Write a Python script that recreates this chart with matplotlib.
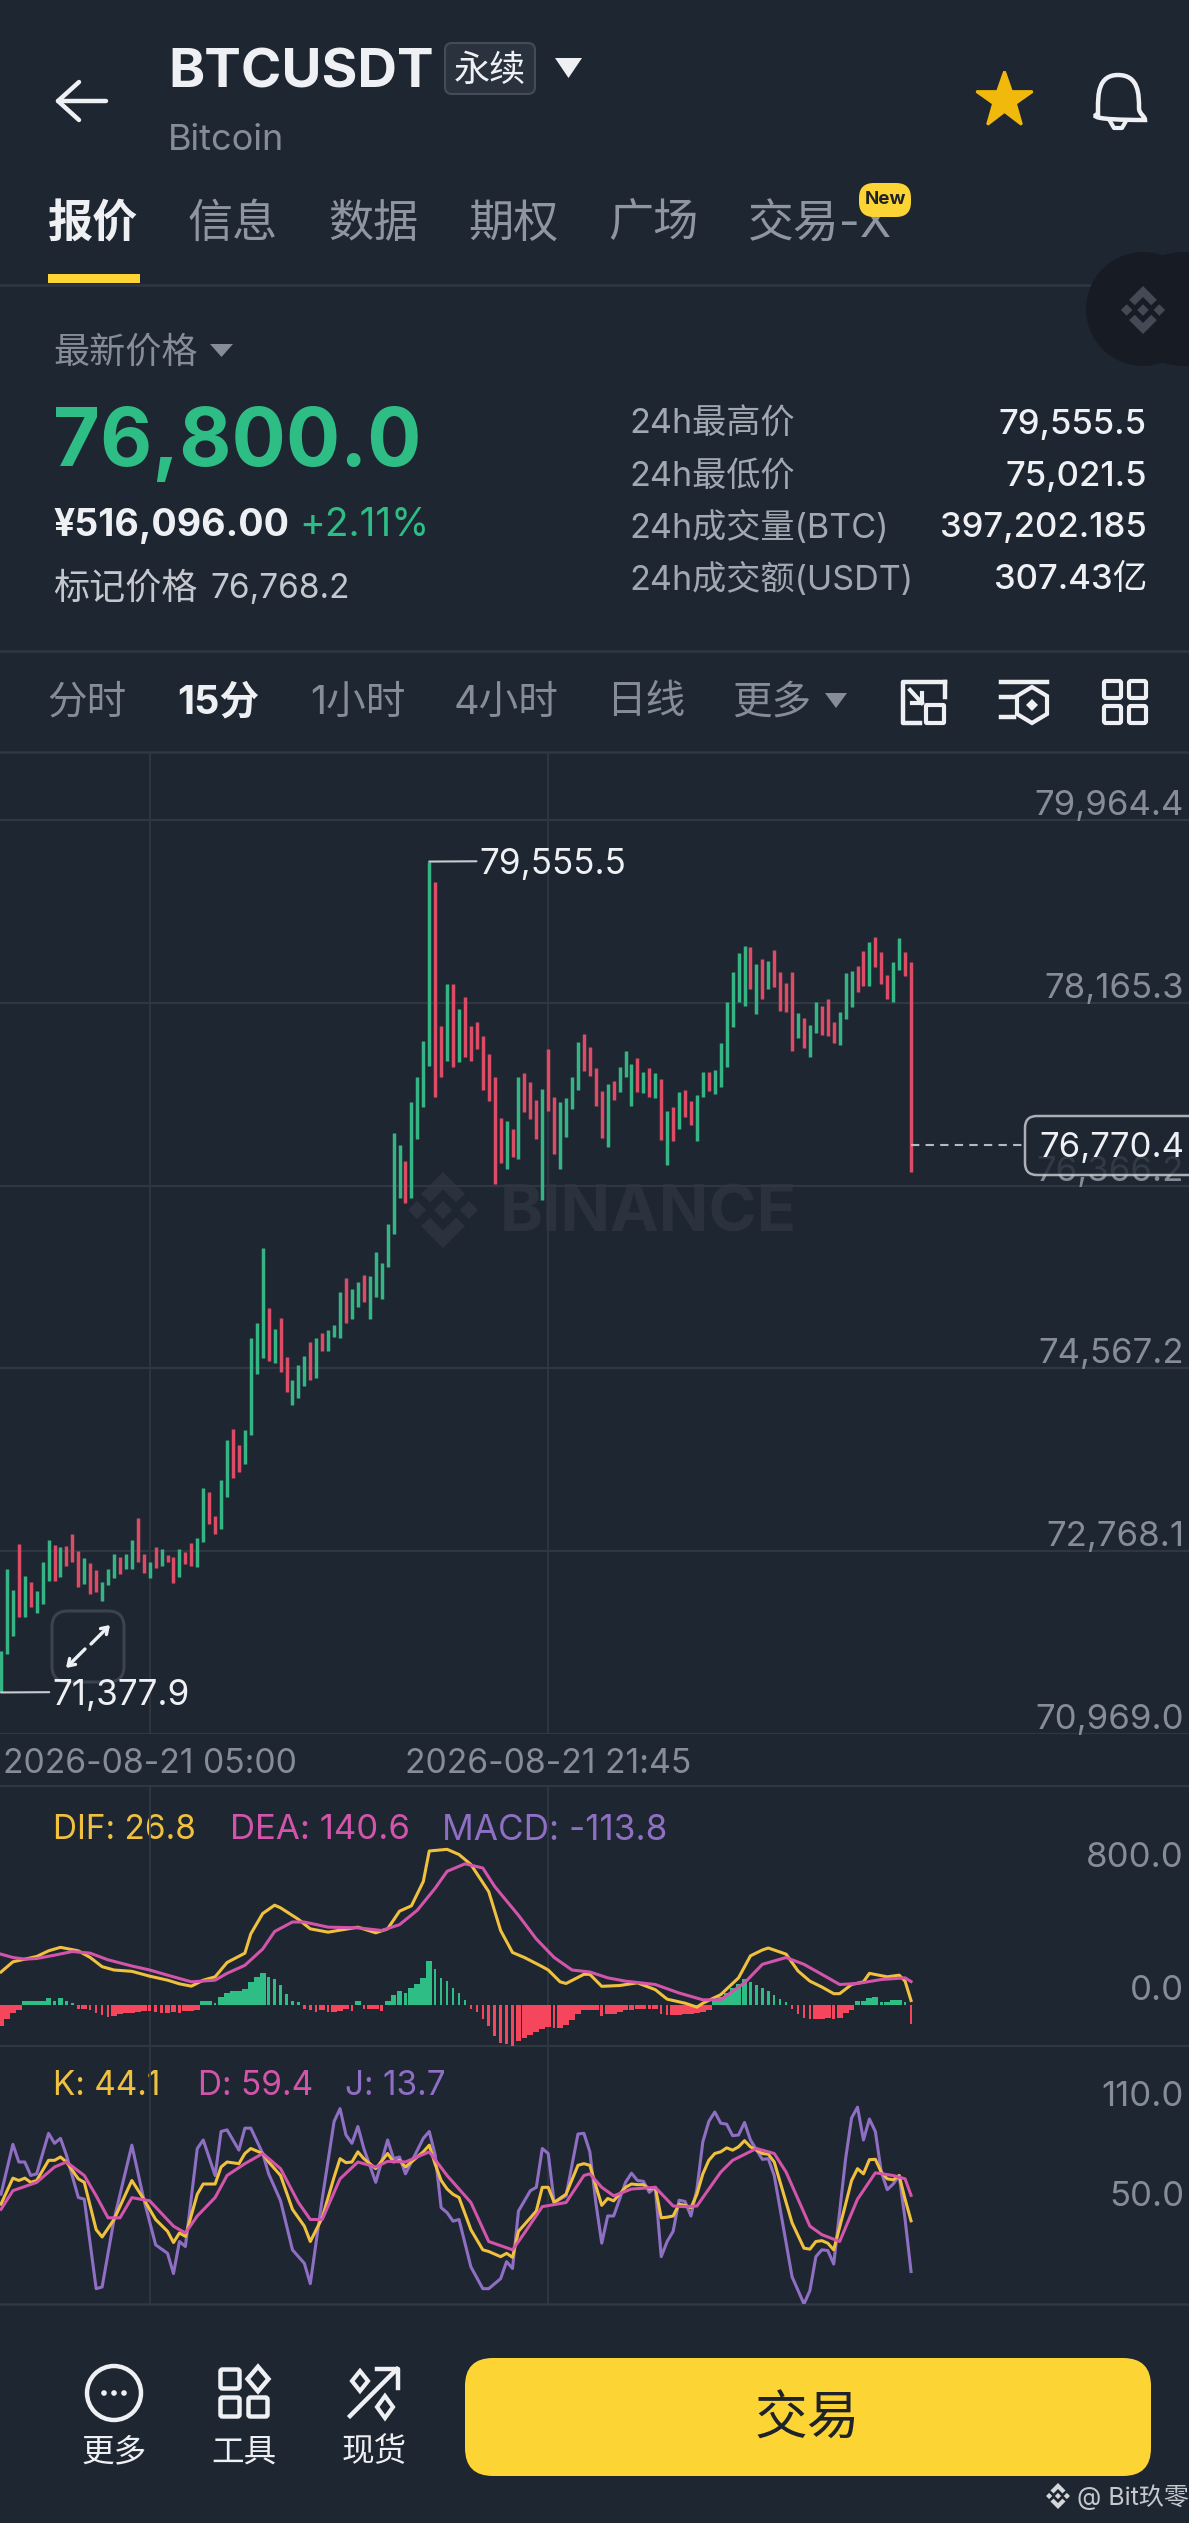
import matplotlib
matplotlib.use('Agg')
import matplotlib.pyplot as plt
from matplotlib.patches import FancyBboxPatch, Polygon, Circle, PathPatch, Rectangle
from matplotlib.path import Path

plt.rcParams['font.family'] = ['Inter', 'Noto Sans CJK SC', 'DejaVu Sans']

# candles
highs = [71789, 72590, 72386, 72839, 72524, 72468, 72380, 72659, 72878, 72829,
         72806, 72819, 72934, 72770, 72698, 72655, 72583, 72468, 72590, 72737,
         72714, 72741, 72878, 73098, 72741, 72662, 72813, 72790, 72731, 72714,
         72790, 72764, 72846, 72898, 73387, 73354, 73115, 73469, 73862, 73974,
         73816, 73961, 74863, 75010, 75755, 75158, 74955, 75060, 74682, 74453,
         74600, 74689, 74830, 74863, 74912, 74945, 74991, 75322, 75460, 75345,
         75420, 75490, 75476, 75709, 75604, 75985, 76888, 76767, 76609, 77187,
         77439, 77790, 79555.5, 79358, 77941, 78351, 78351, 78102, 78227, 77941,
         77981, 77840, 77662, 77439, 77029, 77006, 76928, 77439, 77472, 77384,
         77210, 77318, 77708, 77236, 77190, 77226, 77439, 77784, 77856, 77728,
         77528, 77302, 77364, 77396, 77530, 77694, 77563, 77626, 77488, 77527,
         77471, 77416, 77101, 77143, 77291, 77307, 77199, 77258, 77481, 77488,
         77504, 77767, 78170, 78472, 78652, 78728, 78718, 78544, 78593, 78580,
         78685, 78472, 78364, 78472, 78068, 78019, 77947, 78170, 78137, 78203,
         77973, 78078, 78455, 78478, 78531, 78675, 78767, 78816, 78662, 78439,
         78564, 78800, 78662, 78570]
lows = [71377.9, 71757, 71934, 72124, 72124, 72222, 72157, 72249, 72478, 72478,
        72518, 72623, 72665, 72419, 72445, 72344, 72370, 72278, 72436, 72501,
        72544, 72590, 72590, 72665, 72550, 72508, 72600, 72623, 72665, 72452,
        72518, 72642, 72623, 72616, 72862, 73036, 72937, 72983, 73305, 73485,
        73544, 73626, 73912, 74509, 74666, 74640, 74617, 74535, 74338, 74207,
        74272, 74394, 74453, 74476, 74738, 74738, 74873, 74863, 75010, 75050,
        75168, 75224, 75057, 75273, 75247, 75568, 75890, 76249, 76193, 76242,
        76823, 77138, 77544, 77243, 77439, 77597, 77538, 77587, 77636, 77597,
        77708, 77308, 77203, 76380, 76587, 76528, 76646, 76626, 77088, 77023,
        76823, 76226, 77105, 76675, 76531, 76842, 77118, 77308, 77498, 77449,
        77151, 76833, 76744, 77209, 77284, 77432, 77150, 77291, 77281, 77242,
        77225, 76815, 76569, 76806, 76924, 77045, 76963, 76809, 77235, 77301,
        77265, 77334, 77537, 77931, 78177, 78137, 78301, 78052, 78203, 78298,
        78318, 78088, 78078, 77694, 77816, 77717, 77635, 77865, 77849, 77842,
        77767, 77750, 78003, 78121, 78275, 78331, 78331, 78514, 78350, 78206,
        78170, 78488, 78432, 76497]
sides = ('GGGRGRGGGR' 'GRRRGRRGGG' 'RGGRRGRGRR' 'GRRGGRRGGR' 'RGGGGRGRRG'
         'GGRGRGGGRG' 'GRGGGGGGRG' 'GGGRRGRGRR' 'RRRRRGRGRR' 'RGRRGGGGRR'
         'RRGRGGGRGR' 'GRGRGRRGGR' 'GGGGGGRGRG' 'RRRRGRGGRR' 'RGGGRRGRRR' 'GGRR')

price_ticks = [79964.4, 78165.3, 76366.2, 74567.2, 72768.1, 70969.0]
last_price = 76770.4
time_idx = [25, 92]
time_labels = ['2026-08-21 05:00', '2026-08-21 21:45']

macd_hist = [-124, -86, -46, -30, 24, 24, 24, 24, 40, 24,
             40, 24, 14, -24, -24, -30, -50, -60, -70, -64,
             -56, -50, -46, -42, -34, -38, -42, -50, -50, -42,
             -46, -38, -36, -32, 24, 24, 14, 46, 74, 82,
             86, 96, 140, 166, 190, 166, 154, 118, 64, 26,
             18, -24, -30, -40, -30, -40, -40, -36, -26, -34,
             26, -24, -24, -24, -34, 26, 58, 84, 70, 100,
             126, 160, 264, 216, 164, 144, 100, 70, 30, -24,
             -44, -86, -124, -186, -226, -234, -246, -214, -196, -180,
             -164, -146, -130, -140, -136, -122, -90, -56, -30, -30,
             -30, -66, -56, -56, -40, -32, -30, -22, -22, -26,
             -26, -56, -60, -60, -60, -56, -56, -50, -40, -30,
             34, 46, 70, 100, 126, 154, 136, 118, 100, 84,
             60, 34, 20, -26, -54, -80, -86, -86, -86, -78,
             -82, -76, -50, -30, 26, 26, 40, 46, 18, 18,
             30, 30, 16, -113.8]

dif_idx = [0, 2, 4, 6, 8, 10, 13, 15, 17, 19, 22, 25, 28, 30, 32, 34, 36, 38, 41, 42,
           44, 46, 47, 50, 52, 55, 56, 60, 63, 65, 67, 69, 71, 72, 75, 77, 79, 82, 84, 86,
           88, 91, 92, 94, 95, 98, 99, 101, 104, 107, 110, 112, 115, 117, 118, 121, 124, 126, 128, 129,
           132, 134, 136, 138, 140, 141, 143, 145, 146, 149, 151, 152, 153]
dif = [198, 259, 275, 291, 325, 346, 325, 285, 230, 210, 202, 173, 149, 127, 113, 149, 169, 255, 311, 427,
       549, 599, 583, 514, 457, 437, 443, 467, 433, 457, 563, 595, 741, 924, 934, 903, 843, 680, 447, 315,
       285, 230, 210, 139, 129, 184, 184, 112, 117, 133, 92, 35, 11, -13, 11, 62, 163, 295, 330, 342,
       305, 204, 143, 108, 68, 68, 123, 139, 190, 169, 179, 143, 26.8]
dea_idx = [0, 2, 4, 6, 9, 12, 15, 18, 22, 25, 28, 32, 36, 38, 41, 44, 46, 49, 51, 55,
           60, 64, 67, 70, 73, 75, 78, 81, 83, 87, 90, 93, 96, 99, 102, 105, 110, 114, 118, 121,
           125, 128, 132, 135, 138, 141, 144, 148, 152, 153]
dea = [305, 285, 275, 279, 299, 321, 311, 271, 234, 210, 179, 139, 149, 190, 238, 336, 441, 498, 498, 467,
       463, 447, 482, 569, 701, 802, 847, 822, 711, 538, 396, 285, 210, 198, 163, 143, 123, 72, 31, 31,
       133, 244, 285, 244, 184, 123, 129, 153, 163, 140.6]

j_idx = [0, 2, 3, 4, 5, 6, 8, 9, 10, 11, 13, 14, 16, 17, 19, 22, 24, 26, 28, 29,
         30, 31, 33, 34, 36, 37, 38, 40, 41, 42, 44, 45, 47, 49, 51, 52, 54, 56, 57, 58,
         59, 60, 61, 63, 65, 66, 67, 68, 71, 72, 73, 74, 75, 76, 77, 79, 81, 82, 84, 85,
         86, 87, 89, 90, 91, 92, 93, 95, 97, 98, 99, 100, 101, 102, 103, 105, 106, 107, 108, 109,
         110, 111, 112, 113, 114, 115, 116, 117, 118, 119, 120, 121, 122, 123, 124, 125, 126, 128, 129, 130,
         133, 135, 136, 137, 138, 139, 140, 142, 143, 144, 145, 146, 147, 148, 149, 150, 151, 152, 153]
j_vals = [60.1, 90, 79.4, 79.4, 71.3, 72.3, 96.6, 90.6, 93.6, 83.5, 58.1, 57.1, 3.4, 4.4, 44.9, 89.5, 57.1, 29.7, 24.6, 12.5,
          31.7, 28.7, 87.5, 92.6, 71.3, 97.7, 98.7, 86.5, 99.7, 99.7, 84.5, 72.3, 56.1, 26.7, 18.6, 6.4, 57.1, 103.7, 111.4, 95.6,
          90.6, 100.7, 87.5, 67.2, 92.6, 81.4, 82.4, 72.3, 93.6, 97.7, 83.5, 52, 49, 43.9, 44.9, 16.5, 3.4, 3.4, 9.4, 19.6,
          15.5, 50, 62.2, 64.2, 87.5, 84.5, 55.1, 59.1, 96.2, 96.6, 85.5, 55.1, 30.7, 47, 47, 67.2, 72.7, 68.3, 67.8, 61.2,
          64.2, 22.6, 31.7, 37.8, 56.5, 55.7, 47, 63.2, 91.6, 103.7, 109.4, 102.7, 102.1, 95.2, 95.6, 103.1, 92.6, 81, 81.4, 71.3,
          10.5, -5.8, 2.3, 22.6, 26.7, 26.3, 18.2, 81.4, 105.8, 112.3, 92.6, 105.2, 97.7, 73.3, 62.8, 66.2, 71.3, 44.9, 13.7]
k_vals = [54.1, 69.7, 68.3, 69.7, 67.2, 68.3, 80.4, 80.4, 82.4, 79.4, 69.3, 67.2, 38.8, 34.4, 44.9, 68.3, 57.1, 44.9, 37.8, 31.1,
          36.8, 34.8, 60.1, 66.2, 66.2, 76.4, 79.4, 78.4, 84.5, 87.5, 84.5, 79.4, 71.3, 51, 40.9, 31.7, 45.9, 70.3, 81.4, 79,
          79.4, 85.5, 81.4, 75.4, 84.5, 79.4, 80.4, 76.4, 85.5, 89.5, 78, 68.3, 63.2, 60, 58.1, 38.8, 26.7, 25.7, 22.6, 24.6,
          22.2, 37.8, 45.9, 50, 64.2, 64.2, 55.1, 60.1, 77.4, 78.4, 77.4, 65.2, 53.4, 57.5, 56.1, 64.2, 66.2, 65.8, 65.8, 63.2,
          64.2, 45.9, 46.3, 47, 54.1, 53.4, 52, 60.1, 72.3, 80.4, 84.5, 85.5, 87.9, 86.5, 88.5, 92.2, 88.5, 84.5, 84.1, 79.4,
          42.9, 27.7, 27.1, 31.7, 32.2, 30.7, 26.7, 54.1, 68.3, 75.4, 72.3, 80.8, 81, 73.3, 69.3, 68.7, 71.3, 57.1, 44.1]
d_idx = [0, 2, 6, 9, 11, 14, 16, 18, 20, 22, 25, 29, 31, 33, 36, 38, 41, 44, 47, 50,
         52, 54, 57, 60, 63, 65, 68, 72, 75, 79, 82, 86, 88, 91, 95, 98, 99, 101, 103, 106,
         110, 113, 115, 117, 121, 123, 127, 130, 132, 136, 138, 141, 144, 147, 150, 152, 153]
d_vals = [51, 62.2, 67.2, 76.4, 79.4, 71.3, 59.1, 45.9, 45.9, 58, 56.1, 40.9, 36.8, 47, 58.1, 71.3, 78.4, 84.5, 75.4, 55.1,
          44.9, 44.9, 69.3, 79.4, 76.4, 79.8, 79.4, 85.5, 71.3, 55.1, 31.7, 26.7, 36.8, 52.6, 55.1, 71.3, 72.3, 64.2, 59.1, 63.2,
          64.2, 53, 52.6, 53, 73.3, 80.4, 87.5, 84.5, 73.3, 40.9, 35.8, 31.7, 57.1, 72.9, 71.3, 69.3, 59.4]

macd_ticks = [800.0, 0.0]
kdj_ticks = [110.0, 50.0]

BG = '#1e2631'
GRID = '#2f3743'
WHITE = '#eef0f3'
GRAY = '#868d99'
LABEL = '#8f96a1'
GREEN = '#2ebd85'
RED = '#f6465d'
YELLOW = '#f0c13e'
MAGENTA = '#d355ab'
PURPLE = '#8f6fc4'

W, H = 1189, 2523
fig = plt.figure(figsize=(W / 100, H / 100), dpi=100, facecolor=BG)


def px_axes(z):
    ax = fig.add_axes([0, 0, 1, 1], zorder=z)
    ax.set_xlim(0, W)
    ax.set_ylim(H, 0)
    ax.axis('off')
    return ax


def chart_axes(top, bottom, ymin, ymax):
    ax = fig.add_axes([0, 1 - bottom / H, 1, (bottom - top) / H], zorder=1)
    ax.patch.set_alpha(0)
    for s in ax.spines.values():
        s.set_visible(False)
    ax.set_xticks([])
    ax.set_yticks([])
    # one candle is 5.948 px wide, first one sits at x=1
    ax.set_xlim(-1 / 5.948, (W - 1) / 5.948)
    ax.set_ylim(ymin, ymax)
    for t in time_idx:
        ax.axvline(t, color=GRID, lw=1.3, zorder=0)
    return ax


def y_labels(ax, ticks, fmt, grid=False):
    for v in ticks:
        if grid:
            ax.axhline(v, color=GRID, lw=1.6, zorder=0)
        ax.annotate(fmt.format(v), (1, v), xycoords=('axes fraction', 'data'), xytext=(-5, 14),
                    textcoords='offset pixels', ha='right', va='center', fontsize=25, color=GRAY)


def diamond(ax, cx, cy, r, color):
    ax.add_patch(Polygon([(cx, cy - r), (cx + r, cy), (cx, cy + r), (cx - r, cy)], closed=True, fc=color, ec='none'))


def logo(ax, cx, cy, s, color):
    # the five part binance mark
    diamond(ax, cx, cy, s * 0.24, color)
    diamond(ax, cx - s * 0.68, cy, s * 0.24, color)
    diamond(ax, cx + s * 0.68, cy, s * 0.24, color)
    for sg in (-1, 1):
        pts = [(cx, cy + sg * s), (cx + s * 0.58, cy + sg * s * 0.42), (cx + s * 0.34, cy + sg * s * 0.2),
               (cx, cy + sg * s * 0.54), (cx - s * 0.34, cy + sg * s * 0.2), (cx - s * 0.58, cy + sg * s * 0.42)]
        ax.add_patch(Polygon(pts, closed=True, fc=color, ec='none'))


def round_box(ax, x0, y0, x1, y1, r, **kw):
    ax.add_patch(FancyBboxPatch((x0 + r, y0 + r), x1 - x0 - 2 * r, y1 - y0 - 2 * r,
                                boxstyle='round,pad=%s,rounding_size=%s' % (r, r), **kw))


def squares(ax, cx, cy, s, gap, color, lw, kinds):
    # 2x2 icon, kinds says square or diamond per cell
    cells = [(-1, -1), (1, -1), (-1, 1), (1, 1)]
    for (a, b), k in zip(cells, kinds):
        x, y = cx + a * gap, cy + b * gap
        if k == 's':
            round_box(ax, x - s, y - s, x + s, y + s, 2, fc='none', ec=color, lw=lw)
        else:
            r = s * 1.3
            ax.add_patch(Polygon([(x, y - r), (x + r * 0.85, y), (x, y + r), (x - r * 0.85, y)], closed=True,
                                 fc='none', ec=color, lw=lw))


ui = px_axes(0)
top = px_axes(5)


def txt(x, y, s, **kw):
    # va=center sits a little high for these fonts
    ui.text(x, y + 4, s, va='center', **kw)


# header
ui.plot([58, 106], [101, 101], color=WHITE, lw=3.2, solid_capstyle='round')
ui.plot([79, 58, 79], [82, 101, 120], color=WHITE, lw=3.2, solid_capstyle='round', solid_joinstyle='round')
txt(168, 69, 'BTCUSDT', fontsize=39.5, fontweight='bold', color=WHITE)
round_box(ui, 445, 43, 535, 94, 7, fc='#2a323e', ec='#444c58', lw=1.5)
txt(490, 67, '永续', fontsize=26, color=WHITE, ha='center')
ui.add_patch(Polygon([(555, 58), (582, 58), (568.5, 78)], closed=True, fc=WHITE, ec='none'))
txt(168, 137, 'Bitcoin', fontsize=26, color=GRAY)
ui.plot([1004], [100], marker='*', ms=42, mfc='#f0b90b', mec='#f0b90b', mew=2, ls='none')
bell = Path([(1118, 75), (1098, 75), (1098, 95), (1098, 108), (1098, 114), (1092, 116), (1092, 120),
             (1145, 120), (1145, 116), (1139, 114), (1139, 108), (1139, 95), (1139, 75), (1118, 75)],
            [1, 4, 4, 4, 2, 4, 4, 2, 4, 4, 2, 4, 4, 4])
ui.add_patch(PathPatch(bell, fc='none', ec=WHITE, lw=3.2))
ui.plot([1110, 1114, 1122, 1126], [121, 128, 128, 121], color=WHITE, lw=3)

# tabs
tab_names = ['报价', '信息', '数据', '期权', '广场']
tab_x = [93, 233, 373, 513, 653]
for i, (n, x) in enumerate(zip(tab_names, tab_x)):
    txt(x, 221, n, fontsize=32.5, ha='center', color=WHITE if i == 0 else LABEL,
        fontweight='bold' if i == 0 else 'normal')
txt(748, 221, '交易-X', fontsize=33, color=LABEL)
round_box(ui, 859, 183, 911, 217, 15, fc='#fcd535', ec='none', zorder=3)
ui.text(885, 200, 'New', fontsize=13.5, fontweight='bold', color='#1e2329', ha='center', va='center', zorder=4)
ui.add_patch(Rectangle((48, 274), 92, 9, fc='#fcd535', ec='none'))
for y in (284.5, 651, 751.5):
    ui.plot([0, W], [y, y], color=GRID, lw=1.8, zorder=0)
ui.add_patch(FancyBboxPatch((1135, 252), 200, 114, boxstyle='round,pad=0,rounding_size=50', fc='#171c24', ec='none',
                            mutation_aspect=1))
ui.add_patch(Circle((1143, 309), 57, fc='#171c24', ec='none'))
logo(ui, 1143, 310, 24, '#434a56')

# price block
txt(53, 349, '最新价格', fontsize=26, color=GRAY)
ui.add_patch(Polygon([(210, 344), (233, 344), (221.5, 357)], closed=True, fc=GRAY, ec='none'))
txt(53, 441, '76,800.0', fontsize=58, fontweight='bold', color=GREEN)
txt(53, 522, '¥516,096.00', fontsize=27, fontweight='bold', color=WHITE)
txt(299, 522, '+2.11%', fontsize=28, color=GREEN)
txt(53, 585, '标记价格', fontsize=26, color='#c4c8ce')
txt(210, 585, '76,768.2', fontsize=24, color='#c4c8ce')

stat_names = ['24h最高价', '24h最低价', '24h成交量(BTC)', '24h成交额(USDT)']
stat_vals = ['79,555.5', '75,021.5', '397,202.185', '307.43亿']
stat_y = [421, 473, 524, 576]
for n, v, y in zip(stat_names, stat_vals, stat_y):
    txt(629, y, n, fontsize=24.6, color='#a2a8b2')
    txt(1147, y, v, fontsize=25, color=WHITE, fontweight='medium', ha='right')

# interval row
iv_names = ['分时', '15分', '1小时', '4小时', '日线', '更多']
iv_x = [87, 218, 358, 506, 646, 772]
for n, x in zip(iv_names, iv_x):
    sel = n == '15分'
    txt(x, 699, n, fontsize=28.5, ha='center', color=WHITE if sel else GRAY,
        fontweight='bold' if sel else 'normal')
ui.add_patch(Polygon([(825, 693), (847, 693), (836, 708)], closed=True, fc=GRAY, ec='none'))
ui.plot([945, 903, 903, 920], [682, 682, 723, 723], color=WHITE, lw=3.2)
ui.plot([945, 945], [682, 697], color=WHITE, lw=3.2)
round_box(ui, 926, 705, 944, 723, 1, fc='none', ec=WHITE, lw=3)
ui.plot([910, 922], [690, 703], color=WHITE, lw=3)
ui.plot([912, 922, 922], [703, 703, 693], color=WHITE, lw=3)
ui.plot([1001, 1047], [682, 682], color=WHITE, lw=3.2)
ui.plot([1001, 1014], [697, 697], color=WHITE, lw=3.2)
ui.plot([1001, 1014], [717, 717], color=WHITE, lw=3.2)
ui.add_patch(Polygon([(1032, 687), (1047, 696), (1047, 714), (1032, 723), (1017, 714), (1017, 696)], closed=True,
                     fc='none', ec=WHITE, lw=3))
diamond(ui, 1032, 705, 6, WHITE)
squares(ui, 1125, 702, 8.5, 12.5, WHITE, 3, 'ssss')

# watermark under the candles
logo(ui, 443, 1210, 38, '#2b323d')
txt(500, 1210, 'BINANCE', fontsize=47, fontweight='bold', color='#2b323d')

# expand button
round_box(ui, 52, 1611, 124, 1682, 16, fc=BG, ec='#3c434f', lw=2.2)
ui.annotate('', xy=(110, 1625), xytext=(91, 1644), arrowprops=dict(arrowstyle='->,head_length=0.45,head_width=0.3', color=WHITE, lw=2.4, shrinkA=0, shrinkB=0))
ui.annotate('', xy=(66, 1668), xytext=(85, 1649), arrowprops=dict(arrowstyle='->,head_length=0.45,head_width=0.3', color=WHITE, lw=2.4, shrinkA=0, shrinkB=0))

# price panel, 1 px is 9.842 usdt
ax = chart_axes(752, 1734, 70969.0, 70969.0 + 982 * 9.842)
y_labels(ax, price_ticks, '{:,.1f}', grid=True)
xs = list(range(len(highs)))
cols = ['#35b583' if s == 'G' else '#dc4c65' for s in sides]
ax.vlines(xs, lows, highs, colors=cols, lw=2.5, zorder=2)

# high / low markers
hi = highs.index(max(highs))
lo = lows.index(min(lows))
ax.annotate('{:,.1f}'.format(highs[hi]), (hi, highs[hi]), xytext=(50, -3), textcoords='offset pixels',
            fontsize=25.3, color=WHITE, va='center', ha='left',
            arrowprops=dict(arrowstyle='-', color='#c8ccd2', lw=1.5, shrinkA=0, shrinkB=0, relpos=(0, 0.6)))
ax.annotate('{:,.1f}'.format(lows[lo]), (lo, lows[lo]), xytext=(51, -3), textcoords='offset pixels',
            fontsize=25.3, color=WHITE, va='center', ha='left',
            arrowprops=dict(arrowstyle='-', color='#c8ccd2', lw=1.5, shrinkA=0, shrinkB=0, relpos=(0, 0.6)))

# last price
ax.hlines(last_price, len(highs) - 1, (1025 - 1) / 5.948, colors='#b5b9c0', linestyles=(0, (4, 3)), lw=1.5)
round_box(top, 1025, 1116, 1215, 1175, 12, fc=BG, ec='#d0d3d8', lw=1.8, alpha=0.8)
top.text(1184, 1148, '{:,.1f}'.format(last_price), fontsize=25, color=WHITE, ha='right', va='center')

# time axis labels
for t, s in zip(time_idx, time_labels):
    txt(1 + t * 5.948, 1760, s, fontsize=24.3, color=GRAY, ha='center')
ui.plot([0, W], [1786, 1786], color=GRID, lw=1.6)

# macd panel
ax2 = chart_axes(1786, 2046, -246, 1314)
y_labels(ax2, macd_ticks, '{:.1f}')
for i, v in enumerate(macd_hist):
    # falling bars are thin in the app
    w = 0.98 if i == 0 or v >= macd_hist[i - 1] else 0.42
    ax2.bar(i, v, width=w, color=GREEN if v > 0 else RED, zorder=1)
ax2.plot(dif_idx, dif, color=YELLOW, lw=2.2, zorder=3)
ax2.plot(dea_idx, dea, color=MAGENTA, lw=2.2, zorder=4)
txt(53, 1826, 'DIF: 26.8', fontsize=24, color=YELLOW)
txt(230, 1826, 'DEA: 140.6', fontsize=25, color=MAGENTA)
txt(442, 1826, 'MACD: -113.8', fontsize=25.3, color=PURPLE)
ui.plot([0, W], [2046, 2046], color=GRID, lw=1.6)

# kdj panel
ax3 = chart_axes(2046, 2304, -5.8, 149)
y_labels(ax3, kdj_ticks, '{:.1f}')
ax3.plot(j_idx, j_vals, color=PURPLE, lw=2.2, zorder=2)
ax3.plot(j_idx, k_vals, color=YELLOW, lw=2.2, zorder=3)
ax3.plot(d_idx, d_vals, color=MAGENTA, lw=2.2, zorder=4)
txt(53, 2082, 'K: 44.1', fontsize=24, color=YELLOW)
txt(198, 2082, 'D: 59.4', fontsize=24, color=MAGENTA)
txt(345, 2082, 'J: 13.7', fontsize=24, color=PURPLE)
ui.plot([0, W], [2304, 2304], color=GRID, lw=1.8)

# bottom bar
ui.add_patch(Circle((114, 2393), 27, fc='none', ec=WHITE, lw=3.2))
for dx in (-10, 0, 10):
    ui.add_patch(Circle((114 + dx, 2393), 2.8, fc=WHITE, ec='none'))
squares(ui, 244, 2393, 9.5, 14, WHITE, 3.2, 'sdss')
ui.plot([350, 397, 397], [2416, 2369, 2369], color=WHITE, lw=3.2)
ui.plot([377, 398, 398], [2369, 2369, 2388], color=WHITE, lw=3.2)
ui.add_patch(Polygon([(360, 2371), (368, 2381), (360, 2391), (352, 2381)], closed=True, fc='none', ec=WHITE, lw=3))
ui.add_patch(Polygon([(385, 2396), (393, 2407), (385, 2418), (377, 2407)], closed=True, fc='none', ec=WHITE, lw=3))
bar_names = ['更多', '工具', '现货']
bar_x = [114, 244, 374]
for n, x in zip(bar_names, bar_x):
    txt(x, 2449, n, fontsize=23.5, color=WHITE, ha='center')
round_box(ui, 465, 2358, 1151, 2476, 28, fc='#fcd535', ec='none')
txt(807, 2417, '交易', fontsize=38, color='#1e2329', ha='center')
logo(ui, 1058, 2496, 13, '#d5d7db')
txt(1077, 2493, '@ Bit玖零', fontsize=18, color='#c5c8cd')

fig.savefig('out.png', dpi=100, facecolor=BG)
